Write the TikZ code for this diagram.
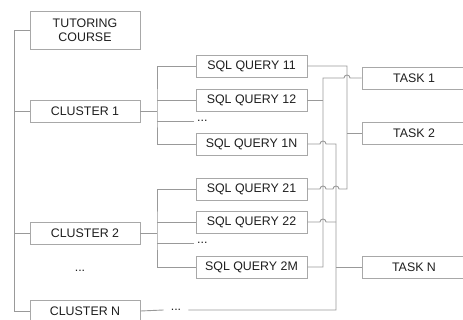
\documentclass[tikz,border=0pt]{standalone}
\usepackage{fontspec}
\setmainfont{Liberation Sans}
\definecolor{linegray}{HTML}{999999}
\definecolor{boxgray}{HTML}{A8A8A8}
\definecolor{inkgray}{HTML}{1E1E1E}
\begin{document}
\begin{tikzpicture}[x=1pt,y=-1pt,
  every node/.style={font=\fontsize{12.4}{13.5}\selectfont, text=inkgray},
  box/.style={draw=boxgray, line width=0.9pt, rectangle, inner sep=0pt, minimum height=22pt, align=center},
  clusterbox/.style={box, minimum width=110pt},
  querybox/.style={box, minimum width=111pt},
  taskbox/.style={box, minimum width=104pt},
  dotsnode/.style={inner ysep=0pt, inner xsep=3pt},
  link/.style={draw=linegray, line width=0.9pt}]
\useasboundingbox (0,0) rectangle (463,320);

% root and clusters
\node[clusterbox, minimum height=38pt] (tc) at (85,30) {TUTORING\\COURSE};
\node[clusterbox] (c1) at (85,111) {CLUSTER 1};
\node[clusterbox] (c2) at (85,233) {CLUSTER 2};
\node (cd) at (80,271) {...};
\node[clusterbox] (cn) at (85,311) {CLUSTER N};

% queries
\node[querybox] (q11) at (251.5,66) {SQL QUERY 11};
\node[querybox] (q12) at (251.5,100) {SQL QUERY 12};
\node[dotsnode, anchor=west] (qd1) at (194,121) {...};
\node[querybox] (q1n) at (251.5,144) {SQL QUERY 1N};
\node[querybox] (q21) at (251.5,189) {SQL QUERY 21};
\node[querybox] (q22) at (251.5,222) {SQL QUERY 22};
\node[dotsnode, anchor=west] (qd2) at (194,243) {...};
\node[querybox] (q2m) at (251.5,267) {SQL QUERY 2M};
\node[dotsnode, inner xsep=7pt] (nd) at (176,310) {...};

% tasks
\node[taskbox] (t1) at (414,78) {TASK 1};
\node[taskbox] (t2) at (414,133) {TASK 2};
\node[taskbox] (tn) at (414,267) {TASK N};

% bus columns
\coordinate (trunk) at (14,0);
\coordinate (j1) at (157,111);
\coordinate (j2) at (157,233);
\coordinate (colA) at (323,0);
\coordinate (colB) at (336,0);
\coordinate (colC) at (347,0);

% tree on the left
\draw[link] (tc.west) -- (tc.west -| trunk) |- (cn.west);
\draw[link] (c1.west) -- (c1.west -| trunk);
\draw[link] (c2.west) -- (c2.west -| trunk);

\draw[link] (c1.east) -- (j1);
\draw[link] (q11.west) -| (j1) |- (q1n.west);
\draw[link] (q12.west) -- (q12.west -| j1);
\draw[link] (qd1.west) -- (qd1.west -| j1);

\draw[link] (c2.east) -- (j2);
\draw[link] (q21.west) -| (j2) |- (q2m.west);
\draw[link] (q22.west) -- (q22.west -| j2);
\draw[link] (qd2.west) -- (qd2.west -| j2);

\draw[link] (cn.east) -- (nd.west);

% query-to-task wiring with hops
\draw[link] (q21.east) -- ([xshift=-3pt]q21.east -| colA) arc[start angle=180,end angle=0,radius=3pt]
  -- ([xshift=-3pt]q21.east -| colB) arc[start angle=180,end angle=0,radius=3pt]
  -- (q21.east -| colC) |- (q11.east);
\draw[link] (t2.west) -- (t2.west -| colC);

\draw[link] (t1.west) -- ([xshift=3pt]t1.west -| colC) arc[start angle=0,end angle=180,radius=3pt]
  -- (t1.west -| colA) |- (q2m.east);
\draw[link] (q12.east) -- (q12.east -| colA);

\draw[link] (q1n.east) -- ([xshift=-3pt]q1n.east -| colA) arc[start angle=180,end angle=0,radius=3pt]
  -- (q1n.east -| colB) |- (nd.east);
\draw[link] (q22.east) -- ([xshift=-3pt]q22.east -| colA) arc[start angle=180,end angle=0,radius=3pt]
  -- (q22.east -| colB);
\draw[link] (tn.west) -- (tn.west -| colB);
\end{tikzpicture}
\end{document}
